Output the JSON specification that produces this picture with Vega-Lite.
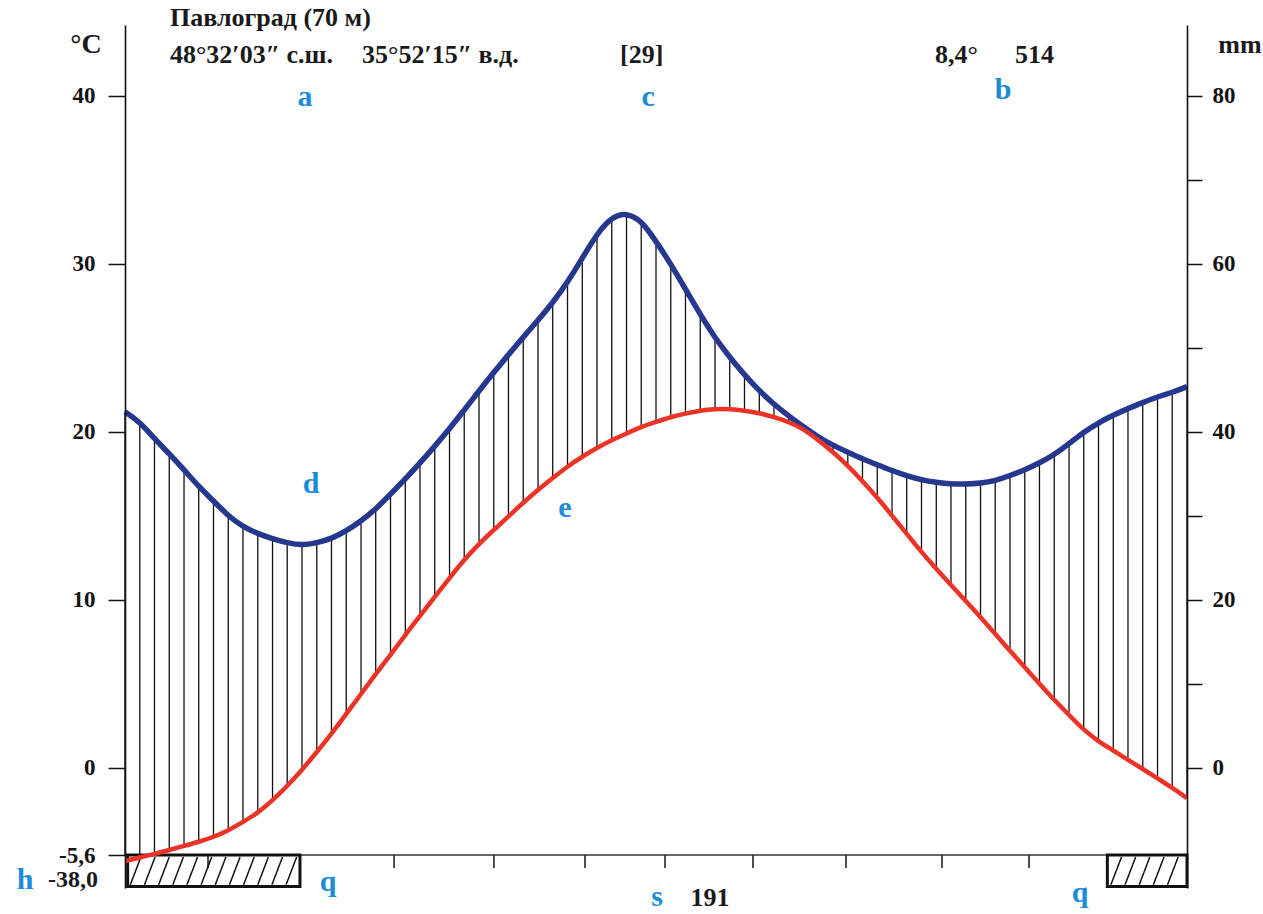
{
  "$schema": "https://vega.github.io/schema/vega-lite/v6.json",
  "width": 1062,
  "height": 863,
  "autosize": {"type": "none"},
  "padding": {"left": 125, "top": 25, "right": 76, "bottom": 26},
  "background": "white",
  "config": {"view": {"stroke": null}, "font": "Liberation Serif"},
  "datasets": {
    "clim": [
      {"m": 0, "t": -5.54, "p": 42.4},
      {"m": 0.167, "t": -5.33, "p": 41.2},
      {"m": 0.333, "t": -5.12, "p": 39.2},
      {"m": 0.5, "t": -4.88, "p": 37.4},
      {"m": 0.667, "t": -4.64, "p": 35.5},
      {"m": 0.833, "t": -4.40, "p": 33.5},
      {"m": 1, "t": -4.11, "p": 31.8},
      {"m": 1.167, "t": -3.72, "p": 30.0},
      {"m": 1.333, "t": -3.21, "p": 28.7},
      {"m": 1.5, "t": -2.68, "p": 27.9},
      {"m": 1.667, "t": -1.93, "p": 27.3},
      {"m": 1.833, "t": -1.07, "p": 26.8},
      {"m": 2, "t": -0.12, "p": 26.5},
      {"m": 2.167, "t": 0.95, "p": 26.8},
      {"m": 2.333, "t": 2.02, "p": 27.3},
      {"m": 2.5, "t": 3.22, "p": 28.2},
      {"m": 2.667, "t": 4.40, "p": 29.4},
      {"m": 2.833, "t": 5.60, "p": 30.8},
      {"m": 3, "t": 6.73, "p": 32.6},
      {"m": 3.167, "t": 7.92, "p": 34.4},
      {"m": 3.333, "t": 9.05, "p": 36.3},
      {"m": 3.5, "t": 10.18, "p": 38.3},
      {"m": 3.667, "t": 11.31, "p": 40.4},
      {"m": 3.833, "t": 12.40, "p": 42.6},
      {"m": 4, "t": 13.35, "p": 44.9},
      {"m": 4.167, "t": 14.17, "p": 47.1},
      {"m": 4.333, "t": 14.97, "p": 49.2},
      {"m": 4.5, "t": 15.80, "p": 51.3},
      {"m": 4.667, "t": 16.55, "p": 53.3},
      {"m": 4.833, "t": 17.26, "p": 55.4},
      {"m": 5, "t": 17.95, "p": 57.8},
      {"m": 5.167, "t": 18.54, "p": 60.7},
      {"m": 5.333, "t": 19.05, "p": 63.6},
      {"m": 5.5, "t": 19.52, "p": 65.6},
      {"m": 5.667, "t": 19.91, "p": 66.1},
      {"m": 5.833, "t": 20.30, "p": 65.2},
      {"m": 6, "t": 20.60, "p": 62.7},
      {"m": 6.167, "t": 20.89, "p": 60.0},
      {"m": 6.333, "t": 21.10, "p": 57.0},
      {"m": 6.5, "t": 21.28, "p": 54.0},
      {"m": 6.667, "t": 21.37, "p": 51.2},
      {"m": 6.833, "t": 21.37, "p": 48.9},
      {"m": 7, "t": 21.28, "p": 46.8},
      {"m": 7.167, "t": 21.13, "p": 44.9},
      {"m": 7.333, "t": 20.89, "p": 43.3},
      {"m": 7.5, "t": 20.60, "p": 41.9},
      {"m": 7.667, "t": 20.18, "p": 40.6},
      {"m": 7.833, "t": 19.52, "p": 39.4},
      {"m": 8, "t": 18.81, "p": 38.4},
      {"m": 8.167, "t": 18.00, "p": 37.6},
      {"m": 8.333, "t": 17.08, "p": 36.8},
      {"m": 8.5, "t": 16.10, "p": 36.1},
      {"m": 8.667, "t": 15.03, "p": 35.4},
      {"m": 8.833, "t": 13.93, "p": 34.8},
      {"m": 9, "t": 12.85, "p": 34.3},
      {"m": 9.167, "t": 11.85, "p": 34.0},
      {"m": 9.333, "t": 10.89, "p": 33.8},
      {"m": 9.5, "t": 9.94, "p": 33.8},
      {"m": 9.667, "t": 8.99, "p": 33.9},
      {"m": 9.833, "t": 7.98, "p": 34.2},
      {"m": 10, "t": 6.96, "p": 34.8},
      {"m": 10.167, "t": 6.01, "p": 35.5},
      {"m": 10.333, "t": 5.00, "p": 36.3},
      {"m": 10.5, "t": 4.05, "p": 37.3},
      {"m": 10.667, "t": 3.15, "p": 38.6},
      {"m": 10.833, "t": 2.26, "p": 40.0},
      {"m": 11, "t": 1.58, "p": 41.1},
      {"m": 11.167, "t": 1.05, "p": 42.0},
      {"m": 11.333, "t": 0.48, "p": 42.8},
      {"m": 11.5, "t": -0.05, "p": 43.5},
      {"m": 11.667, "t": -0.63, "p": 44.2},
      {"m": 11.833, "t": -1.17, "p": 44.7},
      {"m": 12, "t": -1.79, "p": 45.4}
    ],
    "frost": [
      {"from": 0.03, "to": 1.977},
      {"from": 11.1, "to": 12}
    ],
    "months": [
      {"b": 0.938}, {"b": 1.977}, {"b": 3.04}, {"b": 4.169}, {"b": 5.198}, {"b": 6.102},
      {"b": 7.096}, {"b": 8.147}, {"b": 9.232}, {"b": 10.215}, {"b": 11.1}
    ],
    "hatch": [
      {"h": 0.06, "h2": 0.18}, {"h": 0.22, "h2": 0.34}, {"h": 0.38, "h2": 0.50},
      {"h": 0.54, "h2": 0.66}, {"h": 0.70, "h2": 0.82}, {"h": 0.86, "h2": 0.98},
      {"h": 1.02, "h2": 1.14}, {"h": 1.18, "h2": 1.30}, {"h": 1.34, "h2": 1.46},
      {"h": 1.50, "h2": 1.62}, {"h": 1.66, "h2": 1.78}, {"h": 1.82, "h2": 1.94},
      {"h": 11.14, "h2": 11.26}, {"h": 11.30, "h2": 11.42}, {"h": 11.46, "h2": 11.58},
      {"h": 11.62, "h2": 11.74}, {"h": 11.78, "h2": 11.90}
    ]
  },
  "resolve": {"scale": {"y": "independent"}},
  "layer": [
    {
      "data": {"name": "clim"},
      "mark": {"type": "rule", "color": "#111111", "strokeWidth": 1.3},
      "encoding": {
        "x": {"field": "m", "type": "quantitative", "scale": {"domain": [0, 12], "nice": false, "zero": false}, "axis": null},
        "y": {
          "field": "p", "type": "quantitative",
          "scale": {"domain": [-14.286, 88.452], "nice": false, "zero": false},
          "axis": {
            "orient": "right", "values": [0, 10, 20, 30, 40, 50, 60, 70, 80],
            "labelExpr": "datum.value % 20 == 0 ? datum.label : ''",
            "grid": false, "title": null,
            "tickSize": 15, "tickColor": "#111111", "tickWidth": 1.5,
            "domainColor": "#111111", "domainWidth": 1.6,
            "labelFont": "Liberation Serif", "labelFontWeight": "bold", "labelFontSize": 23,
            "labelColor": "#111111", "labelPadding": 10, "zindex": 1
          }
        },
        "y2": {"datum": -10.36}
      }
    },
    {
      "data": {"name": "clim"},
      "mark": {"type": "area", "color": "white", "opacity": 1, "interpolate": "basis"},
      "encoding": {
        "x": {"field": "m", "type": "quantitative", "scale": {"domain": [0, 12], "nice": false, "zero": false}, "axis": null},
        "y": {
          "field": "t", "type": "quantitative",
          "scale": {"domain": [-7.143, 44.226], "nice": false, "zero": false},
          "axis": {
            "orient": "left", "values": [-5.18, 0, 10, 20, 30, 40],
            "labelExpr": "datum.value < -5 ? '-5,6' : datum.label",
            "grid": false, "title": null,
            "tickSize": 17, "tickColor": "#111111", "tickWidth": 1.5,
            "domainColor": "#111111", "domainWidth": 1.6,
            "labelFont": "Liberation Serif", "labelFontWeight": "bold", "labelFontSize": 23,
            "labelColor": "#111111", "labelPadding": 13, "zindex": 1
          }
        },
        "y2": {"datum": -5.18}
      }
    },
    {
      "data": {"name": "clim"},
      "mark": {"type": "line", "color": "#26378f", "strokeWidth": 5.5, "interpolate": "basis"},
      "encoding": {
        "x": {"field": "m", "type": "quantitative", "scale": {"domain": [0, 12], "nice": false, "zero": false}, "axis": null},
        "y": {"field": "p", "type": "quantitative", "scale": {"domain": [-14.286, 88.452], "nice": false, "zero": false}, "axis": null}
      }
    },
    {
      "data": {"values": [{}]},
      "layer": [
        {
          "mark": {"type": "rule", "color": "#333333", "strokeWidth": 1.4},
          "encoding": {
            "x": {"datum": 0, "type": "quantitative", "scale": {"domain": [0, 12], "nice": false, "zero": false}, "axis": null},
            "x2": {"datum": 12},
            "y": {"datum": -5.18, "type": "quantitative", "scale": {"domain": [-7.143, 44.226], "nice": false, "zero": false}, "axis": null}
          }
        },
        {
          "data": {"name": "months"},
          "mark": {"type": "rule", "color": "#222222", "strokeWidth": 1.6},
          "encoding": {
            "x": {"field": "b", "type": "quantitative", "axis": null},
            "y": {"datum": -5.18, "type": "quantitative", "axis": null},
            "y2": {"datum": -5.95}
          }
        },
        {
          "data": {"name": "frost"},
          "mark": {"type": "rect", "fill": null, "fillOpacity": 0, "stroke": "#111111", "strokeWidth": 3},
          "encoding": {
            "x": {"field": "from", "type": "quantitative", "axis": null},
            "x2": {"field": "to"},
            "y": {"datum": -5.18, "type": "quantitative", "axis": null},
            "y2": {"datum": -7.05}
          }
        },
        {
          "data": {"name": "hatch"},
          "mark": {"type": "rule", "color": "#111111", "strokeWidth": 1.5},
          "encoding": {
            "x": {"field": "h", "type": "quantitative", "axis": null},
            "x2": {"field": "h2"},
            "y": {"datum": -6.95, "type": "quantitative", "axis": null},
            "y2": {"datum": -5.3}
          }
        },
        {
          "data": {"name": "clim"},
          "mark": {"type": "line", "color": "#ec3326", "strokeWidth": 4.5, "interpolate": "basis"},
          "encoding": {
            "x": {"field": "m", "type": "quantitative", "axis": null},
            "y": {"field": "t", "type": "quantitative", "axis": null}
          }
        },
        {
          "mark": {"type": "text", "text": "Павлоград (70 м)", "font": "Liberation Serif", "fontWeight": "bold", "fontSize": 26, "color": "#1a1a1a", "align": "left", "baseline": "middle"},
          "encoding": {
            "x": {"datum": 0.508, "type": "quantitative", "axis": null},
            "y": {"datum": 44.64, "type": "quantitative", "axis": null}
          }
        },
        {
          "mark": {"type": "text", "text": "48°32′03″ с.ш.", "font": "Liberation Serif", "fontWeight": "bold", "fontSize": 26, "color": "#1a1a1a", "align": "left", "baseline": "middle"},
          "encoding": {
            "x": {"datum": 0.508, "type": "quantitative", "axis": null},
            "y": {"datum": 42.44, "type": "quantitative", "axis": null}
          }
        },
        {
          "mark": {"type": "text", "text": "35°52′15″ в.д.", "font": "Liberation Serif", "fontWeight": "bold", "fontSize": 26, "color": "#1a1a1a", "align": "left", "baseline": "middle"},
          "encoding": {
            "x": {"datum": 2.678, "type": "quantitative", "axis": null},
            "y": {"datum": 42.44, "type": "quantitative", "axis": null}
          }
        },
        {
          "mark": {"type": "text", "text": "[29]", "font": "Liberation Serif", "fontWeight": "bold", "fontSize": 26, "color": "#1a1a1a", "align": "left", "baseline": "middle"},
          "encoding": {
            "x": {"datum": 5.593, "type": "quantitative", "axis": null},
            "y": {"datum": 42.44, "type": "quantitative", "axis": null}
          }
        },
        {
          "mark": {"type": "text", "text": "8,4°", "font": "Liberation Serif", "fontWeight": "bold", "fontSize": 26, "color": "#1a1a1a", "align": "left", "baseline": "middle"},
          "encoding": {
            "x": {"datum": 9.153, "type": "quantitative", "axis": null},
            "y": {"datum": 42.44, "type": "quantitative", "axis": null}
          }
        },
        {
          "mark": {"type": "text", "text": "514", "font": "Liberation Serif", "fontWeight": "bold", "fontSize": 26, "color": "#1a1a1a", "align": "left", "baseline": "middle"},
          "encoding": {
            "x": {"datum": 10.056, "type": "quantitative", "axis": null},
            "y": {"datum": 42.44, "type": "quantitative", "axis": null}
          }
        },
        {
          "mark": {"type": "text", "text": "°C", "font": "Liberation Serif", "fontWeight": "bold", "fontSize": 28, "color": "#1a1a1a", "align": "center", "baseline": "middle"},
          "encoding": {
            "x": {"datum": -0.441, "type": "quantitative", "axis": null},
            "y": {"datum": 43.04, "type": "quantitative", "axis": null}
          }
        },
        {
          "mark": {"type": "text", "text": "mm", "font": "Liberation Serif", "fontWeight": "bold", "fontSize": 26, "color": "#1a1a1a", "align": "center", "baseline": "middle"},
          "encoding": {
            "x": {"datum": 12.599, "type": "quantitative", "axis": null},
            "y": {"datum": 43.04, "type": "quantitative", "axis": null}
          }
        },
        {
          "mark": {"type": "text", "text": "-38,0", "font": "Liberation Serif", "fontWeight": "bold", "fontSize": 24, "color": "#1a1a1a", "align": "right", "baseline": "middle"},
          "encoding": {
            "x": {"datum": -0.305, "type": "quantitative", "axis": null},
            "y": {"datum": -6.67, "type": "quantitative", "axis": null}
          }
        },
        {
          "mark": {"type": "text", "text": "191", "font": "Liberation Serif", "fontWeight": "bold", "fontSize": 26, "color": "#1a1a1a", "align": "center", "baseline": "middle"},
          "encoding": {
            "x": {"datum": 6.61, "type": "quantitative", "axis": null},
            "y": {"datum": -7.72, "type": "quantitative", "axis": null}
          }
        },
        {
          "mark": {"type": "text", "text": "a", "font": "Liberation Serif", "fontWeight": "bold", "fontSize": 30, "color": "#1a8cd8", "align": "center", "baseline": "middle"},
          "encoding": {
            "x": {"datum": 2.034, "type": "quantitative", "axis": null},
            "y": {"datum": 39.94, "type": "quantitative", "axis": null}
          }
        },
        {
          "mark": {"type": "text", "text": "c", "font": "Liberation Serif", "fontWeight": "bold", "fontSize": 30, "color": "#1a8cd8", "align": "center", "baseline": "middle"},
          "encoding": {
            "x": {"datum": 5.91, "type": "quantitative", "axis": null},
            "y": {"datum": 39.94, "type": "quantitative", "axis": null}
          }
        },
        {
          "mark": {"type": "text", "text": "b", "font": "Liberation Serif", "fontWeight": "bold", "fontSize": 30, "color": "#1a8cd8", "align": "center", "baseline": "middle"},
          "encoding": {
            "x": {"datum": 9.921, "type": "quantitative", "axis": null},
            "y": {"datum": 40.36, "type": "quantitative", "axis": null}
          }
        },
        {
          "mark": {"type": "text", "text": "d", "font": "Liberation Serif", "fontWeight": "bold", "fontSize": 30, "color": "#1a8cd8", "align": "center", "baseline": "middle"},
          "encoding": {
            "x": {"datum": 2.102, "type": "quantitative", "axis": null},
            "y": {"datum": 16.9, "type": "quantitative", "axis": null}
          }
        },
        {
          "mark": {"type": "text", "text": "e", "font": "Liberation Serif", "fontWeight": "bold", "fontSize": 30, "color": "#1a8cd8", "align": "center", "baseline": "middle"},
          "encoding": {
            "x": {"datum": 4.972, "type": "quantitative", "axis": null},
            "y": {"datum": 15.48, "type": "quantitative", "axis": null}
          }
        },
        {
          "mark": {"type": "text", "text": "h", "font": "Liberation Serif", "fontWeight": "bold", "fontSize": 30, "color": "#1a8cd8", "align": "center", "baseline": "middle"},
          "encoding": {
            "x": {"datum": -1.13, "type": "quantitative", "axis": null},
            "y": {"datum": -6.67, "type": "quantitative", "axis": null}
          }
        },
        {
          "mark": {"type": "text", "text": "q", "font": "Liberation Serif", "fontWeight": "bold", "fontSize": 30, "color": "#1a8cd8", "align": "center", "baseline": "middle"},
          "encoding": {
            "x": {"datum": 2.294, "type": "quantitative", "axis": null},
            "y": {"datum": -6.79, "type": "quantitative", "axis": null}
          }
        },
        {
          "mark": {"type": "text", "text": "s", "font": "Liberation Serif", "fontWeight": "bold", "fontSize": 30, "color": "#1a8cd8", "align": "center", "baseline": "middle"},
          "encoding": {
            "x": {"datum": 6.011, "type": "quantitative", "axis": null},
            "y": {"datum": -7.65, "type": "quantitative", "axis": null}
          }
        },
        {
          "mark": {"type": "text", "text": "q", "font": "Liberation Serif", "fontWeight": "bold", "fontSize": 30, "color": "#1a8cd8", "align": "center", "baseline": "middle"},
          "encoding": {
            "x": {"datum": 10.791, "type": "quantitative", "axis": null},
            "y": {"datum": -7.44, "type": "quantitative", "axis": null}
          }
        }
      ]
    }
  ]
}
